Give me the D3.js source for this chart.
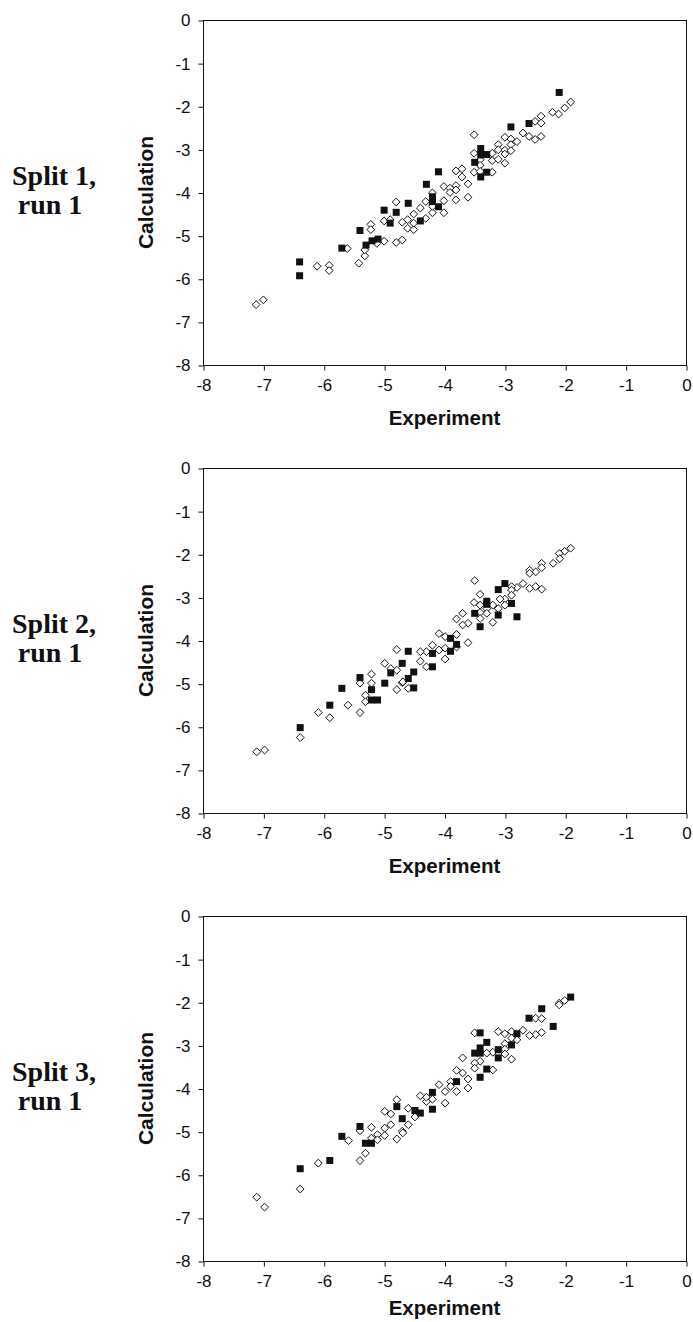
<!DOCTYPE html>
<html>
<head>
<meta charset="utf-8">
<script src="https://cdn.jsdelivr.net/npm/d3@7"></script>
<style>
  body { margin: 0; background: #fff; }
  text { fill: #111; }
</style>
</head>
<body>
<div id="chart"></div>
<script>
// values: [experiment, calculation]
var xTicks = [-8, -7, -6, -5, -4, -3, -2, -1, 0];
var yTicks = [0, -1, -2, -3, -4, -5, -6, -7, -8];
var panelNames = [["Split 1,", "run 1"], ["Split 2,", "run 1"], ["Split 3,", "run 1"]];

// split 1 - open diamonds
var split1Open = [
  [-7.12,-6.60],[-7.0,-6.49],[-6.11,-5.71],[-5.91,-5.69],[-5.91,-5.81],[-5.61,-5.30],[-5.42,-5.64],
  [-5.32,-5.47],[-5.32,-5.33],[-5.22,-4.74],[-5.22,-4.86],[-5.12,-5.18],[-5.0,-4.66],[-5.0,-5.13],
  [-4.9,-4.63],[-4.80,-4.22],[-4.80,-5.16],[-4.70,-5.10],[-4.70,-4.69],[-4.61,-4.63],[-4.61,-4.83],
  [-4.51,-4.50],[-4.51,-4.86],[-4.51,-4.71],[-4.40,-4.36],[-4.31,-4.21],[-4.31,-4.60],[-4.20,-4.47],
  [-4.20,-4.01],[-4.20,-4.32],[-4.01,-3.86],[-4.01,-4.19],[-4.01,-4.47],[-3.91,-3.90],[-3.91,-4.0],
  [-3.81,-3.50],[-3.81,-3.84],[-3.81,-3.94],[-3.81,-4.17],[-3.71,-3.45],[-3.71,-3.64],[-3.61,-3.80],
  [-3.61,-4.11],[-3.51,-2.66],[-3.51,-3.09],[-3.51,-3.53],[-3.41,-3.24],[-3.41,-3.37],[-3.41,-3.51],
  [-3.21,-3.09],[-3.21,-3.26],[-3.21,-3.53],[-3.11,-2.89],[-3.11,-3.01],[-3.11,-3.23],[-3.0,-2.72],
  [-3.0,-3.02],[-3.0,-3.11],[-3.0,-3.32],[-2.90,-2.76],[-2.90,-2.89],[-2.90,-3.03],[-2.80,-2.82],
  [-2.70,-2.62],[-2.60,-2.70],[-2.50,-2.35],[-2.50,-2.77],[-2.40,-2.23],[-2.40,-2.39],[-2.40,-2.70],
  [-2.21,-2.14],[-2.11,-2.18],[-2.01,-2.04],[-1.91,-1.90]
];
// split 1 - filled squares
var split1Filled = [
  [-2.1,-1.68],[-2.6,-2.40],[-2.9,-2.48],[-3.4,-2.98],[-3.4,-3.13],[-3.3,-3.12],[-3.5,-3.30],
  [-3.3,-3.53],[-3.4,-3.64],[-4.1,-3.52],[-4.3,-3.81],[-4.2,-4.10],[-4.2,-4.21],[-4.1,-4.33],
  [-4.6,-4.25],[-4.8,-4.46],[-5.0,-4.41],[-4.4,-4.66],[-4.9,-4.71],[-5.4,-4.88],[-5.7,-5.29],
  [-5.3,-5.22],[-5.2,-5.12],[-5.1,-5.08],[-6.4,-5.61],[-6.4,-5.93]
];

var split2Open = [
  [-7.11,-6.58],[-6.98,-6.54],[-6.39,-6.25],[-6.09,-5.67],[-5.90,-5.79],[-5.60,-5.50],[-5.40,-5.67],
  [-5.31,-5.27],[-5.31,-5.42],[-5.21,-4.78],[-5.21,-4.99],[-5.40,-4.99],[-4.99,-4.53],[-4.79,-4.21],
  [-4.79,-4.69],[-4.79,-5.14],[-4.70,-4.98],[-4.89,-4.65],
  [-1.91,-1.86],[-2.01,-1.93],[-2.10,-1.98],[-2.09,-2.10],[-2.20,-2.21],[-2.39,-2.21],[-2.39,-2.31],
  [-2.49,-2.41],[-2.59,-2.37],[-2.59,-2.44],[-2.49,-2.75],[-2.39,-2.81],[-2.59,-2.79],[-2.70,-2.68],
  [-2.80,-2.77],[-2.89,-2.75],[-2.89,-2.83],[-2.89,-2.95],[-3.0,-3.04],[-3.0,-3.18],[-3.08,-3.04],
  [-3.11,-3.26],[-3.20,-3.18],[-3.20,-3.58],[-3.30,-3.26],[-3.30,-3.37],[-3.41,-2.93],[-3.41,-3.18],
  [-3.41,-3.35],[-3.41,-3.49],[-3.51,-3.12],[-3.50,-2.61],[-3.61,-3.60],[-3.70,-3.64],[-3.80,-3.50],
  [-3.70,-3.37],[-3.80,-3.86],[-3.99,-3.91],[-4.09,-3.84],[-3.61,-4.05],[-3.80,-4.15],[-3.99,-4.18],
  [-3.99,-4.43],[-4.09,-4.22],[-4.20,-4.11],[-4.30,-4.26],[-4.30,-4.61],[-4.40,-4.26],[-4.40,-4.48],
  [-4.69,-4.96],[-4.60,-5.11]
];
var split2Filled = [
  [-6.39,-6.02],[-5.90,-5.50],[-5.70,-5.11],[-5.40,-4.86],[-5.21,-5.14],[-5.21,-5.38],[-5.11,-5.38],
  [-4.99,-4.99],[-4.89,-4.75],[-4.70,-4.53],[-4.60,-4.25],[-4.20,-4.61],[-4.51,-4.73],[-4.60,-4.88],
  [-4.51,-5.10],[-4.20,-4.30],[-3.90,-4.25],[-3.90,-3.95],[-3.80,-4.09],[-3.41,-3.68],[-2.80,-3.45],
  [-3.11,-3.41],[-3.50,-3.37],[-2.89,-3.14],[-3.30,-3.09],[-3.30,-3.16],[-3.11,-2.82],[-3.0,-2.68]
];

var split3Open = [
  [-7.11,-6.52],[-6.98,-6.75],[-6.39,-6.33],[-6.09,-5.73],[-5.59,-5.21],[-5.40,-5.67],[-5.31,-5.50],
  [-5.40,-4.98],[-5.21,-4.90],[-5.21,-5.15],[-5.11,-5.07],[-5.11,-5.19],[-4.99,-4.92],[-4.99,-5.09],
  [-4.89,-4.84],[-4.89,-4.59],[-4.99,-4.53],[-4.79,-4.26],[-4.79,-5.17],[-4.70,-4.99],
  [-2.01,-1.96],[-2.10,-2.02],[-2.10,-2.06],[-2.49,-2.37],[-2.39,-2.38],[-2.39,-2.70],[-2.49,-2.75],
  [-2.59,-2.77],[-2.70,-2.65],[-2.80,-2.87],[-2.89,-2.68],[-2.89,-2.83],[-3.0,-2.73],[-3.11,-2.68],
  [-3.0,-2.96],[-3.0,-3.09],[-3.0,-3.20],[-2.89,-3.32],[-3.20,-3.16],[-3.30,-3.18],[-3.50,-2.71],
  [-3.41,-3.37],[-3.50,-3.41],[-3.50,-3.53],[-3.20,-3.57],[-3.70,-3.29],[-3.80,-3.58],[-3.70,-3.64],
  [-3.61,-3.78],[-3.61,-3.99],[-3.80,-4.07],[-3.90,-3.84],[-3.90,-3.95],[-3.99,-4.07],[-4.09,-3.91],
  [-3.99,-4.34],[-4.20,-4.25],[-4.30,-4.30],[-4.30,-4.20],[-4.40,-4.17],[-4.60,-4.46],[-4.49,-4.66],
  [-4.60,-4.84],[-4.69,-5.03]
];
var split3Filled = [
  [-6.39,-5.86],[-5.90,-5.67],[-5.70,-5.11],[-5.40,-4.88],[-5.31,-5.27],[-5.21,-5.27],[-4.79,-4.42],
  [-4.70,-4.70],[-4.49,-4.51],[-4.40,-4.57],[-4.20,-4.48],[-4.20,-4.09],[-3.80,-3.84],[-3.41,-3.74],
  [-3.30,-3.55],[-3.41,-3.06],[-3.50,-3.18],[-3.41,-3.18],[-3.41,-2.71],[-3.30,-2.93],[-3.11,-3.10],
  [-3.11,-3.29],[-2.89,-2.99],[-2.80,-2.73],[-2.60,-2.37],[-2.39,-2.15],[-2.20,-2.56],[-1.91,-1.88]
];

var openSets = [split1Open, split2Open, split3Open];
var filledSets = [split1Filled, split2Filled, split3Filled];

var W = 693, H = 1322;
var plotLeft = 203, plotW = 483, plotH = 345;
var panelTop = [20, 468, 916];
// the last title sits right at the bottom edge of the page
var xTitleY = [405, 405, 399];

var svg = d3.select("#chart")
    .append("svg")
    .attr("width", W)
    .attr("height", H);

var x = d3.scaleLinear().domain([-8, 0]).range([0, plotW]);
var y = d3.scaleLinear().domain([-8, 0]).range([plotH, 0]);

for (var i = 0; i < 3; i++) {
  var g = svg.append("g")
      .attr("transform", "translate(" + plotLeft + "," + panelTop[i] + ")");

  // frame round the plot area
  g.append("rect")
      .attr("x", 0.5).attr("y", 0.5)
      .attr("width", plotW).attr("height", plotH)
      .attr("fill", "none")
      .attr("stroke", "#111")
      .attr("stroke-width", 1);

  var xAxis = g.append("g")
      .attr("transform", "translate(0.5," + (plotH + 0.5) + ")")
      .call(d3.axisBottom(x).tickValues(xTicks).tickSizeInner(5).tickSizeOuter(0).tickPadding(8)
        .tickFormat(d3.format("d")));
  var yAxis = g.append("g")
      .attr("transform", "translate(0.5,0.5)")
      .call(d3.axisLeft(y).tickValues(yTicks).tickSizeInner(5).tickSizeOuter(0).tickPadding(8)
        .tickFormat(d3.format("d")));

  [xAxis, yAxis].forEach(function (a) {
    a.select(".domain").remove();
    a.selectAll("line").attr("stroke", "#111");
    a.selectAll("text")
        .attr("fill", "#111")
        .style("font-family", "'Liberation Sans', Arial, sans-serif")
        .style("font-size", "17px");
  });
  // d3 uses a unicode minus, the picture has a plain hyphen
  g.selectAll(".tick text").text(function (d) { return String(d); });

  // axis titles
  g.append("text")
      .attr("x", plotW / 2)
      .attr("y", xTitleY[i])
      .attr("text-anchor", "middle")
      .style("font-family", "'Liberation Sans', Arial, sans-serif")
      .style("font-weight", "bold")
      .style("font-size", "20.5px")
      .text("Experiment");
  g.append("text")
      .attr("transform", "translate(-50," + (plotH / 2) + ") rotate(-90)")
      .attr("text-anchor", "middle")
      .style("font-family", "'Liberation Sans', Arial, sans-serif")
      .style("font-weight", "bold")
      .style("font-size", "21px")
      .text("Calculation");

  // panel label on the left
  var panelLabel = g.append("text")
      .attr("text-anchor", "middle")
      .style("font-family", "'Liberation Serif', 'Times New Roman', serif")
      .style("font-weight", "bold")
      .style("font-size", "28px");
  panelLabel.append("tspan").attr("x", 54 - plotLeft).attr("y", 165).text(panelNames[i][0]);
  panelLabel.append("tspan").attr("x", 50 - plotLeft).attr("y", 194).text(panelNames[i][1]);

  // open diamonds first, filled squares on top
  g.selectAll(".open")
      .data(openSets[i])
      .enter().append("path")
      .attr("class", "open")
      .attr("transform", function (d) { return "translate(" + x(d[0]) + "," + y(d[1]) + ")"; })
      .attr("d", "M0,-3.9L3.9,0L0,3.9L-3.9,0Z")
      .attr("fill", "#fff")
      .attr("stroke", "#111")
      .attr("stroke-width", 1);

  g.selectAll(".filled")
      .data(filledSets[i])
      .enter().append("rect")
      .attr("class", "filled")
      .attr("x", function (d) { return x(d[0]) - 3.5; })
      .attr("y", function (d) { return y(d[1]) - 3.5; })
      .attr("width", 7)
      .attr("height", 7)
      .attr("fill", "#111");
}
</script>
</body>
</html>
